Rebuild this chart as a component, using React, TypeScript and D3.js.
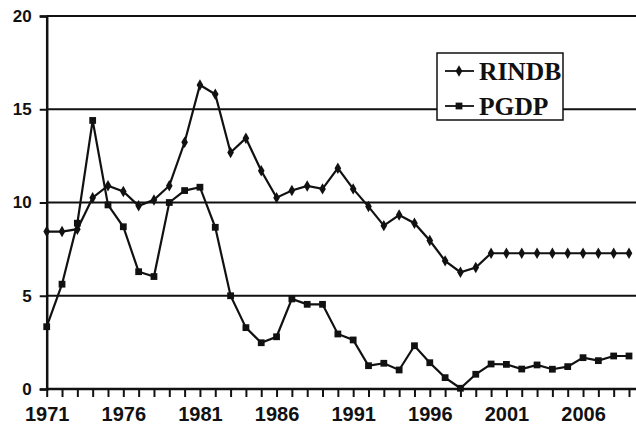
import React, { useEffect, useRef } from "react";
import * as d3 from "d3";

const years = d3.range(1971, 2010);
const rindb = [8.44, 8.44, 8.57, 10.26, 10.9, 10.59, 9.82, 10.14, 10.9, 13.23,
  16.3, 15.8, 12.68, 13.45, 11.7, 10.26, 10.64, 10.89, 10.73, 11.84,
  10.73, 9.78, 8.76, 9.33, 8.89, 7.96, 6.87, 6.26, 6.51, 7.28,
  7.28, 7.28, 7.28, 7.28, 7.28, 7.28, 7.28, 7.28, 7.28];
const pgdp = [3.34, 5.62, 8.89, 14.4, 9.87, 8.7, 6.29, 6.03, 10.0, 10.64,
  10.82, 8.67, 5.0, 3.29, 2.48, 2.8, 4.83, 4.54, 4.54, 2.95,
  2.63, 1.25, 1.38, 1.02, 2.32, 1.41, 0.61, 0.04, 0.79, 1.34,
  1.32, 1.07, 1.29, 1.06, 1.2, 1.68, 1.52, 1.77, 1.77];
const yTicks = [0, 5, 10, 15, 20];
const xLabels = [1971, 1976, 1981, 1986, 1991, 1996, 2001, 2006];

const App = () => {
  const ref = useRef<SVGSVGElement>(null);

  useEffect(() => {
    const width = 636;
    const height = 430;
    const svg = d3.select(ref.current);
    svg.selectAll("*").remove();

    const x = d3.scaleLinear().domain([1971, 2009]).range([46.7, 629]);
    const y = d3.scaleLinear().domain([0, 20]).range([389, 16]);

    svg.append("rect").attr("width", width).attr("height", height).attr("fill", "#fff");

    // horizontal gridlines
    svg.append("g")
      .selectAll("line")
      .data(yTicks.filter(d => d > 0))
      .enter()
      .append("line")
      .attr("x1", x(1971))
      .attr("x2", width)
      .attr("y1", d => y(d))
      .attr("y2", d => y(d))
      .attr("stroke", "#111")
      .attr("stroke-width", 2);

    // y axis
    const yAxis = d3.axisLeft(y).tickValues(yTicks).tickSize(7).tickPadding(8).tickFormat(d3.format("d"));
    const gy = svg.append("g").attr("transform", `translate(${x(1971)},0)`).call(yAxis);
    gy.select(".domain").attr("stroke", "#111").attr("stroke-width", 2.5);
    gy.selectAll(".tick line").attr("stroke", "#111").attr("stroke-width", 2);
    gy.selectAll(".tick text")
      .attr("fill", "#111")
      .style("font-family", "'Liberation Sans', Arial, sans-serif")
      .style("font-weight", "bold")
      .style("font-size", "17px");

    // x axis
    const xAxis = d3.axisBottom(x)
      .tickValues(years)
      .tickSize(8)
      .tickPadding(10)
      .tickFormat(d => (xLabels.includes(+d) ? String(d) : ""));
    const gx = svg.append("g").attr("transform", `translate(0,${y(0)})`).call(xAxis);
    gx.select(".domain").attr("d", `M${x(1971)},0H${width}`).attr("stroke", "#111").attr("stroke-width", 2.5);
    gx.selectAll(".tick line").attr("stroke", "#111").attr("stroke-width", 2);
    gx.selectAll(".tick text")
      .attr("fill", "#111")
      .style("font-family", "'Liberation Sans', Arial, sans-serif")
      .style("font-weight", "bold")
      .style("font-size", "20px");

    const line = d3.line<number>()
      .x((d, i) => x(years[i]))
      .y(d => y(d));

    const diamond = d3.symbol().type(d3.symbolDiamond).size(38);
    const square = d3.symbol().type(d3.symbolSquare).size(46);

    const series = [
      { values: rindb, sym: diamond },
      { values: pgdp, sym: square },
    ];

    series.forEach(s => {
      svg.append("path")
        .datum(s.values)
        .attr("d", line)
        .attr("fill", "none")
        .attr("stroke", "#111")
        .attr("stroke-width", 2.2);
      svg.append("g")
        .selectAll("path")
        .data(s.values)
        .enter()
        .append("path")
        .attr("d", s.sym())
        .attr("transform", (d, i) => `translate(${x(years[i])},${y(d)})`)
        .attr("fill", "#111");
    });

    // legend
    const legend = svg.append("g").attr("transform", "translate(437,53)");
    legend.append("rect")
      .attr("width", 126)
      .attr("height", 67)
      .attr("fill", "#fff")
      .attr("stroke", "#111")
      .attr("stroke-width", 1.5);
    const entries = [
      { name: "RINDB", sym: diamond, cy: 18 },
      { name: "PGDP", sym: square, cy: 53 },
    ];
    entries.forEach(e => {
      legend.append("line")
        .attr("x1", 8).attr("x2", 37)
        .attr("y1", e.cy).attr("y2", e.cy)
        .attr("stroke", "#111").attr("stroke-width", 1.8);
      legend.append("path")
        .attr("d", e.sym())
        .attr("transform", `translate(22,${e.cy})`)
        .attr("fill", "#111");
      legend.append("text")
        .attr("x", 42)
        .attr("y", e.cy + 9)
        .attr("fill", "#111")
        .style("font-family", "'Liberation Serif', 'Times New Roman', serif")
        .style("font-weight", "bold")
        .style("font-size", "25.5px")
        .text(e.name);
    });
  }, []);

  return (
    <svg ref={ref} width={636} height={430} style={{ position: "absolute", left: 0, top: 0 }} />
  );
};

export default App;
